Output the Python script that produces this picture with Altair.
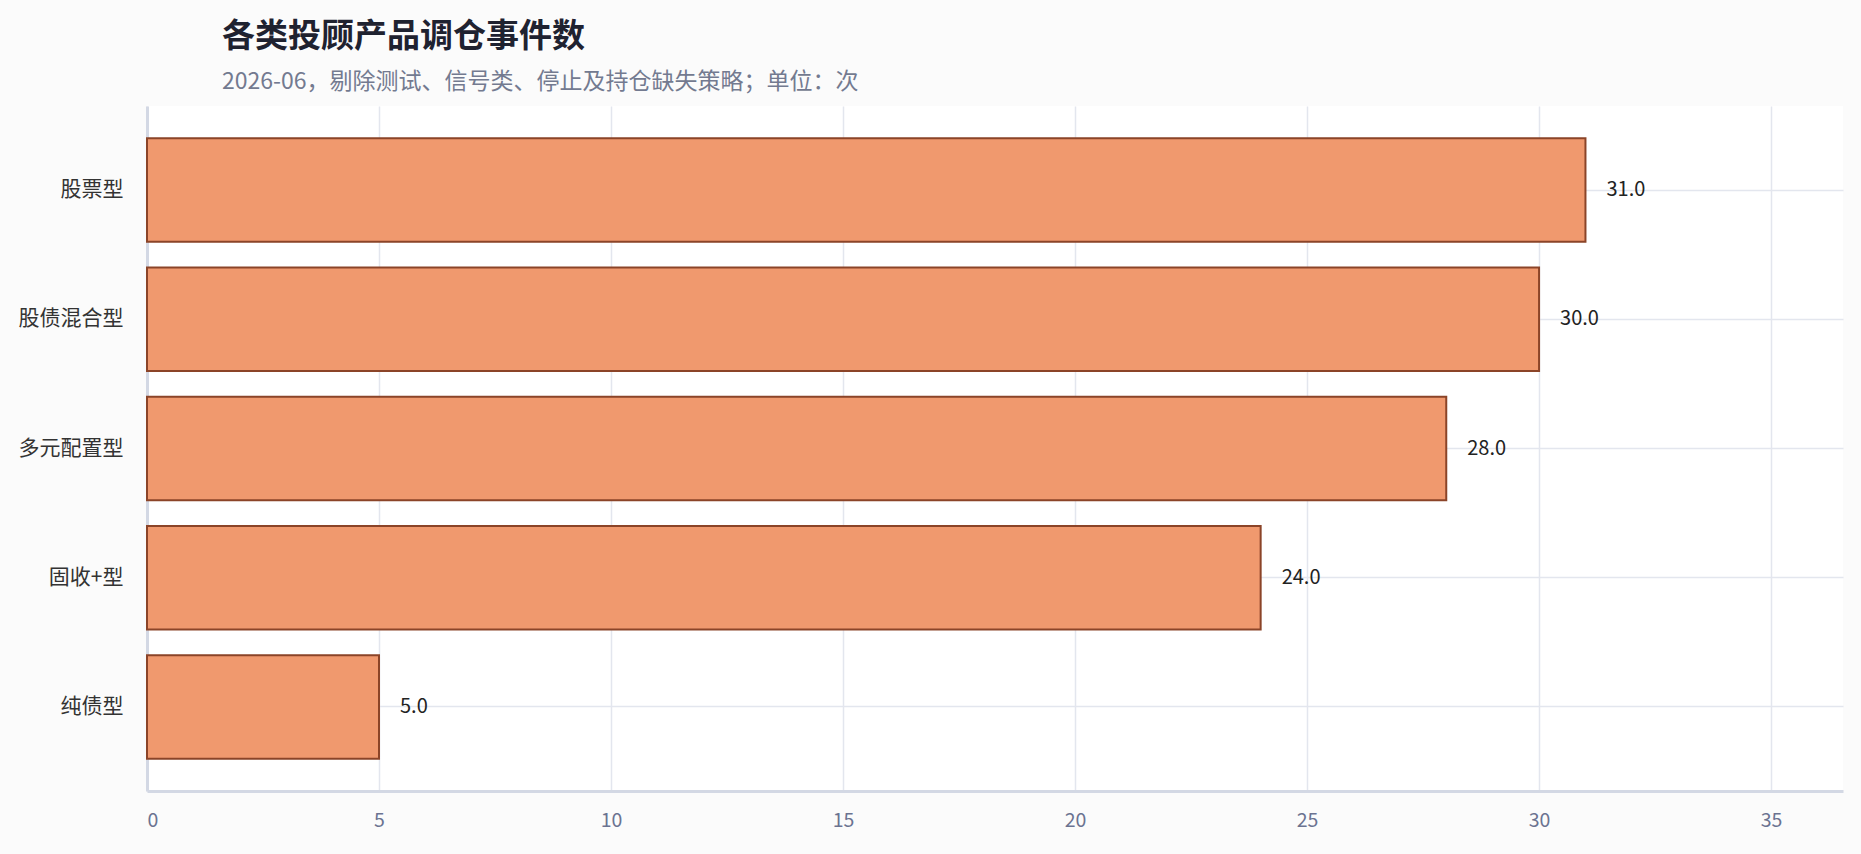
import altair as alt
import pandas as pd

categories = ["股票型", "股债混合型", "多元配置型", "固收+型", "纯债型"]
values = [31.0, 30.0, 28.0, 24.0, 5.0]
x_ticks = [0, 5, 10, 15, 20, 25, 30, 35]

df = pd.DataFrame({"category": categories, "value": values})
df["label"] = [f"{v:.1f}" for v in values]

FONT = "Noto Sans CJK SC"

x = alt.X(
    "value:Q",
    scale=alt.Scale(domain=[0, 36.55], nice=False, zero=True),
    axis=alt.Axis(
        values=x_ticks, title=None, grid=True, gridColor="#E3E6EE", gridWidth=1.5,
        domainColor="#D3D8E4", domainWidth=3, ticks=False,
        labelColor="#6B7391", labelFontSize=19.5, labelPadding=20, labelFont=FONT,
    ),
)
y = alt.Y(
    "category:N", sort=categories,
    scale=alt.Scale(paddingInner=0.2, paddingOuter=0.25),
    axis=alt.Axis(
        title=None, grid=True, bandPosition=0.5, gridColor="#E3E6EE", gridWidth=1.5,
        domainColor="#D3D8E4", domainWidth=3, ticks=False,
        labelColor="#333333", labelFontSize=21, labelPadding=24, labelFont=FONT,
    ),
)

bars = alt.Chart(df).mark_bar(color="#F0996E", stroke="#8B4428", strokeWidth=2).encode(x=x, y=y)
text = alt.Chart(df).mark_text(
    align="left", baseline="middle", dx=21, fontSize=20, color="#222222", font=FONT
).encode(x="value:Q", y=alt.Y("category:N", sort=categories), text="label:N")

chart = (bars + text).properties(
    width=1696, height=685,
    autosize=alt.AutoSizeParams(type="none"),
    padding={"left": 147, "top": 106, "right": 18, "bottom": 63},
    background="#FBFBFB",
    title=alt.TitleParams(
        text="各类投顾产品调仓事件数",
        subtitle="2026-06，剔除测试、信号类、停止及持仓缺失策略；单位：次",
        anchor="start", frame="group", dx=75, offset=12,
        font=FONT, fontSize=33, fontWeight="bold", color="#1F2230",
        subtitleFont=FONT, subtitleFontSize=23, subtitleColor="#737A90", subtitlePadding=17,
    ),
).configure_view(fill="white", strokeWidth=0)

chart.save("out.html", embed_options={"renderer": "svg", "actions": False})
